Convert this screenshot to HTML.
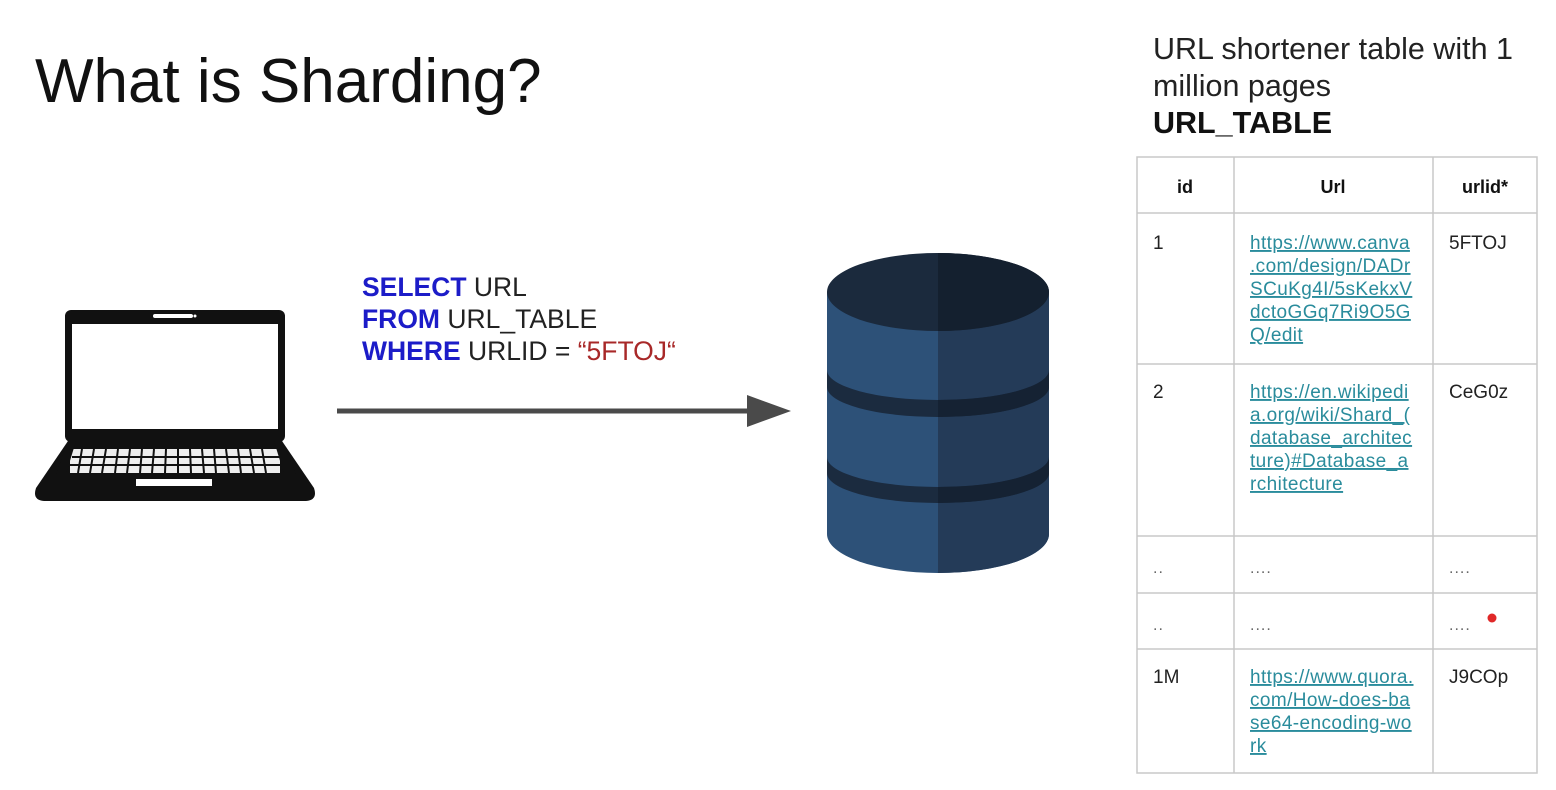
<!DOCTYPE html>
<html><head><meta charset="utf-8"><style>
html,body{margin:0;padding:0;background:#fff;width:1556px;height:790px;overflow:hidden}
svg{display:block}
text{font-family:"Liberation Sans",Arial,sans-serif}
.u{fill:#2a8c9c;font-size:19px;letter-spacing:0.4px;text-decoration:underline}
.c{fill:#222;font-size:19px}
.h{fill:#111;font-size:18px;font-weight:bold}
.d{fill:#666;font-size:16px;letter-spacing:1px}
</style></head><body>
<svg width="1556" height="790" viewBox="0 0 1556 790" xmlns="http://www.w3.org/2000/svg">
<text x="35" y="102" font-size="62" fill="#111">What is Sharding?</text>
<text x="1153" y="59" font-size="30.5" fill="#222">URL shortener table with 1</text>
<text x="1153" y="96" font-size="30.5" fill="#222">million pages</text>
<text x="1153" y="133" font-size="30.5" fill="#111" font-weight="bold">URL_TABLE</text>

<!-- SQL -->
<text x="362" y="296" font-size="26.5" fill="#222"><tspan fill="#1c1cc8" font-weight="bold">SELECT</tspan> URL</text>
<text x="362" y="328" font-size="26.5" fill="#222"><tspan fill="#1c1cc8" font-weight="bold">FROM</tspan> URL_TABLE</text>
<text x="362" y="360" font-size="26.5" fill="#222"><tspan fill="#1c1cc8" font-weight="bold">WHERE</tspan> URLID = <tspan fill="#a82828">“5FTOJ“</tspan></text>

<!-- arrow -->
<line x1="337" y1="411" x2="752" y2="411" stroke="#4a4a4a" stroke-width="5"/>
<polygon points="747,395 791,411 747,427" fill="#4a4a4a"/>

<!-- laptop -->
<rect x="65" y="310" width="220" height="132" rx="6" fill="#111"/>
<rect x="72" y="324" width="206" height="105" fill="#fff"/>
<rect x="153" y="314" width="40" height="4" rx="2" fill="#fff"/>
<circle cx="195" cy="316" r="1.5" fill="#fff"/>
<path d="M68,441 L282,441 L314,488 Q318,500 306,501 L44,501 Q32,500 36,488 Z" fill="#111"/>
<rect x="70" y="449" width="210" height="24" fill="#eee"/>
<g stroke="#111" stroke-width="2">
<line x1="72" y1="457" x2="280" y2="457"/><line x1="70" y1="465" x2="280" y2="465"/>
<line x1="82" y1="449" x2="78" y2="473"/><line x1="94" y1="449" x2="90" y2="473"/><line x1="106" y1="449" x2="102" y2="473"/><line x1="118" y1="449" x2="115" y2="473"/><line x1="130" y1="449" x2="127" y2="473"/><line x1="142" y1="449" x2="140" y2="473"/><line x1="154" y1="449" x2="152" y2="473"/><line x1="166" y1="449" x2="165" y2="473"/><line x1="178" y1="449" x2="178" y2="473"/><line x1="190" y1="449" x2="191" y2="473"/><line x1="202" y1="449" x2="204" y2="473"/><line x1="214" y1="449" x2="216" y2="473"/><line x1="226" y1="449" x2="229" y2="473"/><line x1="238" y1="449" x2="241" y2="473"/><line x1="250" y1="449" x2="254" y2="473"/><line x1="262" y1="449" x2="266" y2="473"/>
</g>
<polygon points="68,441 76,441 66,474 56,474" fill="#111"/>
<polygon points="274,441 282,441 296,474 284,474" fill="#111"/>
<rect x="136" y="479" width="76" height="7" fill="#fff"/>

<!-- database -->
<path d="M827,292 L827,534 A111,39 0 0 0 1049,534 L1049,292 Z" fill="#2d5178"/>
<path d="M938,292 L938,573 A111,39 0 0 0 1049,534 L1049,292 Z" fill="#243b58"/>
<ellipse cx="938" cy="292" rx="111" ry="39" fill="#1b2a3d"/>
<path d="M938,253 A111,39 0 0 1 1049,292 A111,39 0 0 1 938,331 Z" fill="#14202f"/>
<path d="M827,370 A111,30 0 0 0 1049,370 L1049,387 A111,30 0 0 1 827,387 Z" fill="#1b2b3f"/>
<path d="M938,400 A111,30 0 0 0 1049,370 L1049,387 A111,30 0 0 1 938,417 Z" fill="#152233"/>
<path d="M827,457 A111,30 0 0 0 1049,457 L1049,473 A111,30 0 0 1 827,473 Z" fill="#1b2b3f"/>
<path d="M938,487 A111,30 0 0 0 1049,457 L1049,473 A111,30 0 0 1 938,503 Z" fill="#152233"/>

<!-- table -->
<g stroke="#c8c8c8" stroke-width="1.5" fill="none">
<rect x="1137" y="157" width="400" height="616"/>
<line x1="1234" y1="157" x2="1234" y2="773"/><line x1="1433" y1="157" x2="1433" y2="773"/>
<line x1="1137" y1="213" x2="1537" y2="213"/><line x1="1137" y1="364" x2="1537" y2="364"/>
<line x1="1137" y1="536" x2="1537" y2="536"/><line x1="1137" y1="593" x2="1537" y2="593"/>
<line x1="1137" y1="649" x2="1537" y2="649"/>
</g>
<text class="h" x="1185" y="193" text-anchor="middle">id</text>
<text class="h" x="1333" y="193" text-anchor="middle">Url</text>
<text class="h" x="1485" y="193" text-anchor="middle">urlid*</text>
<text class="c" x="1153" y="249">1</text>
<text class="c" x="1449" y="249">5FTOJ</text>
<text class="u" x="1250" y="249">https://www.canva</text>
<text class="u" x="1250" y="272">.com/design/DADr</text>
<text class="u" x="1250" y="295">SCuKg4I/5sKekxV</text>
<text class="u" x="1250" y="318">dctoGGq7Ri9O5G</text>
<text class="u" x="1250" y="341">Q/edit</text>
<text class="c" x="1153" y="398">2</text>
<text class="c" x="1449" y="398">CeG0z</text>
<text class="u" x="1250" y="398">https://en.wikipedi</text>
<text class="u" x="1250" y="421">a.org/wiki/Shard_(</text>
<text class="u" x="1250" y="444">database_architec</text>
<text class="u" x="1250" y="467">ture)#Database_a</text>
<text class="u" x="1250" y="490">rchitecture</text>
<text class="d" x="1153" y="573">..</text><text class="d" x="1250" y="573">....</text><text class="d" x="1449" y="573">....</text>
<text class="d" x="1153" y="630">..</text><text class="d" x="1250" y="630">....</text><text class="d" x="1449" y="630">....</text>
<circle cx="1492" cy="618" r="4.5" fill="#e02828"/>
<text class="c" x="1153" y="683">1M</text>
<text class="c" x="1449" y="683">J9COp</text>
<text class="u" x="1250" y="683">https://www.quora.</text>
<text class="u" x="1250" y="706">com/How-does-ba</text>
<text class="u" x="1250" y="729">se64-encoding-wo</text>
<text class="u" x="1250" y="752">rk</text>
</svg>
</body></html>
